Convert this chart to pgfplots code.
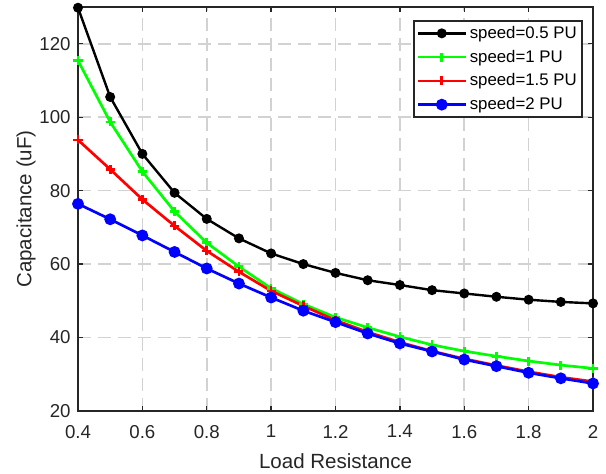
\documentclass[border=0pt]{standalone}
\usepackage{fontspec}
\setmainfont{Liberation Sans}
\usepackage{pgfplots}
\pgfplotsset{compat=1.18}
\definecolor{axgray}{RGB}{38,38,38}
\definecolor{gridgray}{RGB}{210,210,210}
\begin{document}
\begin{tikzpicture}
\begin{axis}[
  scale only axis, width=386.25pt, height=303pt,
  xmin=0.4, xmax=2, ymin=20, ymax=130,
  xtick={0.4,0.6,0.8,1,1.2,1.4,1.6,1.8,2},
  ytick={20,40,60,80,100,120},
  tick align=inside, major tick length=4pt,
  tick style={color=axgray, line width=1pt},
  axis line style={color=axgray, line width=1.4pt},
  grid=major,
  grid style={color=gridgray, line width=1.3pt, dash pattern=on 10pt off 5pt},
  /pgf/number format/assume math mode=true,
  ticklabel style={font=\fontsize{14}{16}\selectfont, color=axgray},
  xticklabel style={yshift=-7pt},
  yticklabel style={xshift=-2pt},
  label style={font=\fontsize{15.4}{18}\selectfont, color=axgray},
  xlabel={Load Resistance},
  ylabel={Capacitance (uF)},
  xlabel style={yshift=-5pt},
  ylabel style={yshift=-4pt},
  legend style={at={(1,1)}, anchor=north east, xshift=-7.5pt, yshift=-9.75pt,
    draw=axgray, line width=1.4pt, font=\fontsize{12.6}{14}\selectfont,
    inner xsep=2pt, inner ysep=2pt, row sep=3.2pt},
  legend cell align=left,
  legend image code/.code={\draw[#1, mark repeat=2, mark phase=2] plot coordinates {(0pt,0pt) (18pt,0pt) (36pt,0pt)};},
]
\addplot[black, line width=1.8pt, mark=*, mark options={scale=1.4, solid}] coordinates {
(0.4,129.8) (0.5,105.5) (0.6,90.0) (0.7,79.4) (0.8,72.3) (0.9,67.0) (1.0,62.9) (1.1,60.0) (1.2,57.6) (1.3,55.6) (1.4,54.3) (1.5,52.9) (1.6,52.0) (1.7,51.1) (1.8,50.3) (1.9,49.7) (2.0,49.3)};
\addlegendentry{speed=0.5 PU}
\addplot[green, line width=2pt, mark=+, mark options={scale=1.7, solid}] coordinates {
(0.4,115.4) (0.5,98.7) (0.6,85.2) (0.7,74.3) (0.8,65.8) (0.9,59.3) (1.0,53.4) (1.1,49.1) (1.2,45.5) (1.3,42.7) (1.4,40.2) (1.5,38.0) (1.6,36.3) (1.7,34.9) (1.8,33.6) (1.9,32.5) (2.0,31.6)};
\addlegendentry{speed=1 PU}
\addplot[red, line width=2pt, mark=+, mark options={scale=1.7, solid}] coordinates {
(0.4,93.8) (0.5,85.8) (0.6,77.6) (0.7,70.4) (0.8,63.6) (0.9,57.9) (1.0,52.7) (1.1,48.6) (1.2,44.7) (1.3,41.5) (1.4,38.7) (1.5,36.3) (1.6,34.2) (1.7,32.4) (1.8,30.7) (1.9,29.2) (2.0,28.0)};
\addlegendentry{speed=1.5 PU}
\addplot[blue, line width=2pt, mark=*, mark options={scale=1.7, solid}] coordinates {
(0.4,76.4) (0.5,72.2) (0.6,67.8) (0.7,63.3) (0.8,58.8) (0.9,54.7) (1.0,50.9) (1.1,47.3) (1.2,44.2) (1.3,41.1) (1.4,38.4) (1.5,36.2) (1.6,34.0) (1.7,32.2) (1.8,30.4) (1.9,28.9) (2.0,27.5)};
\addlegendentry{speed=2 PU}
\coordinate (sw) at (rel axis cs:0,0);
\coordinate (ne) at (rel axis cs:1,1);
\end{axis}
\path ([shift={(-58.5pt,-45pt)}]sw) rectangle ([shift={(9.75pt,5.25pt)}]ne);
\end{tikzpicture}
\end{document}
